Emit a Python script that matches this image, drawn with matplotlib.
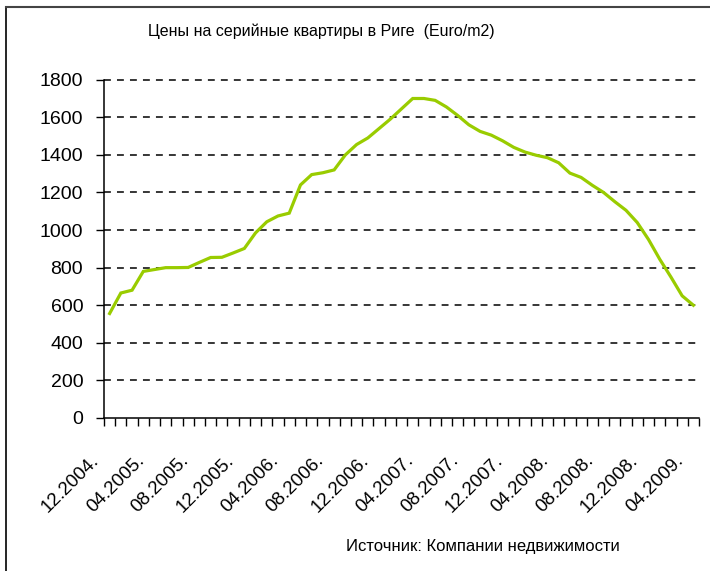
import matplotlib
matplotlib.use("Agg")
import matplotlib.pyplot as plt
from matplotlib.lines import Line2D
from matplotlib.transforms import ScaledTranslation

plt.rcParams['font.family'] = ['Liberation Sans', 'DejaVu Sans']

# monthly categories 12.2004 .. 04.2009
months = []
m, y = 12, 2004
for i in range(53):
    months.append("%02d.%d." % (m, y))
    m += 1
    if m > 12:
        m = 1
        y += 1

prices = [556, 665, 680, 780, 790, 800, 800, 801, 828, 854,
          855, 878, 902, 985, 1044, 1075, 1090, 1240, 1295, 1305,
          1320, 1400, 1455, 1490, 1540, 1590, 1645, 1700, 1700, 1690,
          1655, 1610, 1560, 1525, 1505, 1475, 1440, 1415, 1398, 1385,
          1358, 1303, 1280, 1238, 1200, 1151, 1105, 1040, 950, 845,
          750, 650, 600]

yticks = [0, 200, 400, 600, 800, 1000, 1200, 1400, 1600, 1800]

W, H = 710, 571
fig = plt.figure(figsize=(W / 100, H / 100), dpi=100)
ax = fig.add_axes([104 / W, 1 - 418 / H, (699 - 104) / W, (418 - 79.7) / H])

x = list(range(len(prices)))
ax.plot(x, prices, color="#99cc00", lw=2.3, solid_joinstyle="miter", zorder=3)

ax.set_xlim(-0.5, len(prices) - 0.5)
ax.set_ylim(0, 1800)
ax.set_yticks(yticks)
ax.set_yticklabels([str(v) for v in yticks], fontsize=14)
for v in yticks[1:]:
    ax.axhline(v, color="black", lw=1.1, ls=(0, (4.5, 4)), zorder=1, clip_on=False)

# monthly ticks between categories, labels every 4 months
ax.set_xticks([i - 0.5 for i in range(len(prices) + 1)])
ax.set_xticklabels([])
ax.set_xticks(x[::4], minor=True)
ax.set_xticklabels(months[::4], minor=True, rotation=45, ha="right",
                   va="center", rotation_mode="anchor", fontsize=13.5)
ax.tick_params(axis="x", which="major", direction="out", length=6, width=1)
ax.tick_params(axis="x", which="minor", length=0, pad=29)
ax.tick_params(axis="y", direction="out", length=6, width=1, pad=9)
shift = ScaledTranslation(-0.13, 0, fig.dpi_scale_trans)
for lab in ax.get_xticklabels(minor=True):
    lab.set_transform(lab.get_transform() + shift)

for s in ["top", "right"]:
    ax.spines[s].set_visible(False)
ax.spines["left"].set_linewidth(1.1)
ax.spines["bottom"].set_linewidth(1.1)

fig.text(321 / W, 1 - 31 / H, "Цены на серийные квартиры в Риге  (Euro/m2)",
         ha="center", va="center", fontsize=11.5)
fig.text(483 / W, 1 - 547 / H, "Источник: Компании недвижимости",
         ha="center", va="center", fontsize=12)

# outer frame (left and top edges visible)
fig.add_artist(Line2D([6 / W, 6 / W], [0, 1 - 7 / H], color="black", lw=1.2))
fig.add_artist(Line2D([6 / W, 1], [1 - 7 / H, 1 - 7 / H], color="#444444", lw=1.5))

fig.savefig("out.png", dpi=100)
